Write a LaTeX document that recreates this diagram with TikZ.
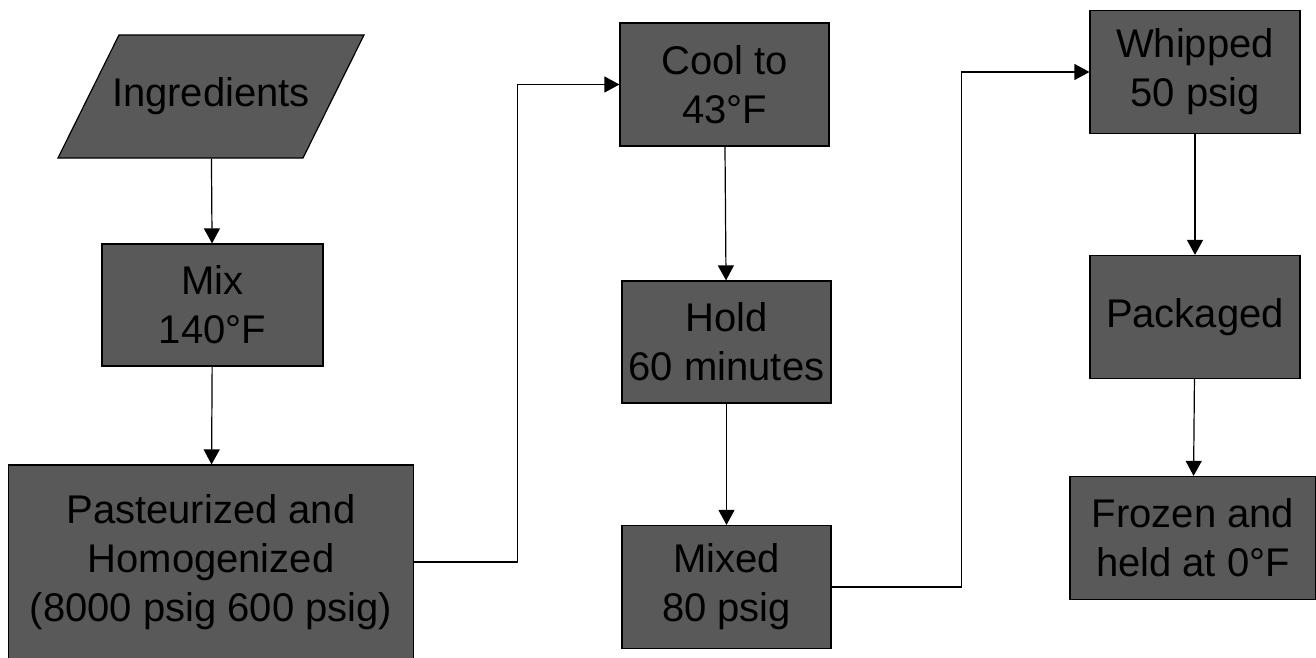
\documentclass[tikz,border=0pt]{standalone}
\usepackage{fontspec}
\setmainfont{Liberation Sans}
\usetikzlibrary{arrows.meta}
\definecolor{boxgray}{RGB}{89,89,89}
\tikzset{
  stepbox/.style={draw=black, line width=0.6pt, fill=boxgray, align=center, inner sep=2pt,
    font=\fontsize{20}{24.5}\selectfont, minimum width=104.5pt, minimum height=61.5pt},
  flow/.style={line width=0.6pt, -{Triangle[length=7.5pt,width=8pt]}}
}
\begin{document}
\begin{tikzpicture}[x=0.5pt,y=0.5pt,yscale=-1,xscale=1]
\useasboundingbox (0,0) rectangle (1316,658);

%Shape: Parallelogram
\draw [line width=0.6pt, fill=boxgray] (58,158) -- (119,35) -- (364,35) -- (303,158) -- cycle;
\node [stepbox, draw=none, fill=none, minimum width=122.5pt] (ingr) at (211,96.5) {Ingredients};
%Shape: Rectangles, first column
\node [stepbox, minimum width=110.5pt, minimum height=61pt] (mix) at (212.5,305) {Mix\\140°F};
\node [stepbox, minimum width=202.5pt, minimum height=97pt] (past) at (211,562) {Pasteurized and\\Homogenized\\(8000 psig 600 psig)};
%Shape: Rectangles, second column
\node [stepbox] (cool) at (724.5,84.5) {Cool to\\43°F};
\node [stepbox, minimum height=61pt] (hold) at (726.5,342) {Hold\\60 minutes};
\node [stepbox] (mixd) at (726.5,587) {Mixed\\80 psig};
%Shape: Rectangles, third column
\node [stepbox, minimum width=105pt] (whip) at (1195,72) {Whipped\\50 psig};
\node [stepbox, minimum width=105pt] (pack) at (1195,317) {Packaged};
\node [stepbox, minimum width=123pt] (frozen) at (1193,538) {Frozen and\\held at 0°F};

%Straight Lines
\draw [flow] (ingr) -- (mix);
\draw [flow] (mix) -- (past);
\draw [flow] (past.east) -- ++(103,0) |- (cool.west);
\draw [flow] (cool) -- (hold);
\draw [flow] (hold) -- (mixd);
\draw [flow] (mixd.east) -- ++(130,0) |- (whip.west);
\draw [flow] (whip) -- (pack);
\draw [flow] (pack) -- (frozen);

\end{tikzpicture}
\end{document}
